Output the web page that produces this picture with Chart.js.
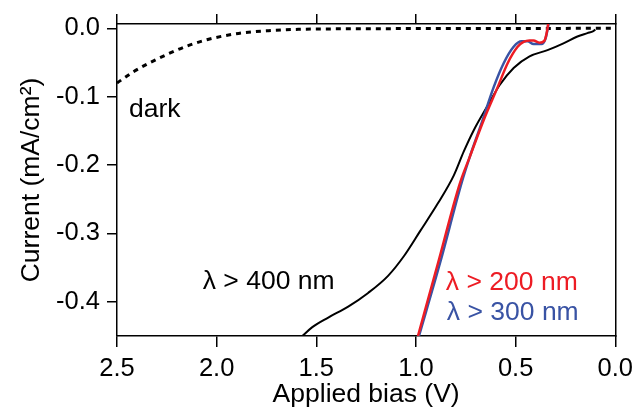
<!DOCTYPE html>
<html>
<head>
<meta charset="utf-8">
<script src="https://cdn.jsdelivr.net/npm/chart.js@4.4.0/dist/chart.umd.min.js"></script>
<style>
  html, body { margin: 0; padding: 0; background: #fff; }
  #wrap { width: 640px; height: 411px; }
</style>
</head>
<body>
<div id="wrap"><canvas id="iv_chart"></canvas></div>
<script>
// values: applied bias (V) -> current (mA/cm2)
const darkBias = [2.5, 2.42, 2.34, 2.24, 2.14, 2.04, 1.89, 1.74, 1.59, 1.4, 1.0, 0.5, 0.0];
const darkCurrent = [-0.080, -0.064, -0.051, -0.037, -0.025, -0.016, -0.0075, -0.0035, -0.0015, -0.0008, -0.0004, -0.0002, 0.0];

const bias400 = [1.57, 1.52, 1.44, 1.34, 1.24, 1.14, 1.06, 0.98, 0.89, 0.81, 0.76, 0.71, 0.64, 0.58, 0.51, 0.43, 0.34, 0.26, 0.19, 0.14, 0.11, 0.10];
const current400 = [-0.45, -0.437, -0.423, -0.407, -0.387, -0.362, -0.333, -0.297, -0.256, -0.215, -0.180, -0.149, -0.113, -0.083, -0.058, -0.041, -0.032, -0.022, -0.012, -0.007, -0.004, -0.002];

const bias200 = [0.99, 0.89, 0.78, 0.73, 0.66, 0.59, 0.54, 0.49, 0.46, 0.43, 0.41, 0.38, 0.355, 0.345, 0.34, 0.335];
const current200 = [-0.45, -0.344, -0.227, -0.188, -0.134, -0.086, -0.051, -0.027, -0.020, -0.018, -0.018, -0.021, -0.018, -0.008, 0.0, 0.01];

const bias300 = [0.985, 0.88, 0.77, 0.73, 0.67, 0.61, 0.56, 0.51, 0.47, 0.44, 0.41, 0.37, 0.35, 0.34, 0.333];
const current300 = [-0.45, -0.344, -0.225, -0.188, -0.138, -0.086, -0.051, -0.027, -0.019, -0.019, -0.023, -0.023, -0.015, -0.002, 0.01];

const xTicks = [2.5, 2.0, 1.5, 1.0, 0.5, 0.0];
const yTicks = [0.0, -0.1, -0.2, -0.3, -0.4];

// text placed in data units
const curveLabels = [
    { text: 'dark', x: 2.44, y: -0.13, color: '#000000' },
    { text: 'λ > 400 nm', x: 2.07, y: -0.381, color: '#000000' },
    { text: 'λ > 200 nm', x: 0.85, y: -0.383, color: '#ed1c24' },
    { text: 'λ > 300 nm', x: 0.845, y: -0.426, color: '#3953a4' }
];

const FONT_FAMILY = '"Liberation Sans", Arial, Helvetica, sans-serif';

function pairs(xs, ys) {
    return xs.map(function (x, i) { return { x: x, y: ys[i] }; });
}

function setTicks(values) {
    return function (scale) {
        scale.ticks = values.map(function (v) { return { value: v }; });
    };
}

const labelPlugin = {
    id: 'curveLabels',
    afterDatasetsDraw: function (chart) {
        var ctx = chart.ctx;
        var xs = chart.scales.x;
        var ys = chart.scales.y;
        ctx.save();
        ctx.font = '26.5px ' + FONT_FAMILY;
        ctx.textAlign = 'left';
        ctx.textBaseline = 'alphabetic';
        curveLabels.forEach(function (l) {
            ctx.fillStyle = l.color;
            ctx.fillText(l.text, xs.getPixelForValue(l.x), ys.getPixelForValue(l.y));
        });
        ctx.restore();
    }
};

const IV_PAGE = {
    render: function () {
        var tickFont = { family: FONT_FAMILY, size: 25.5 };
        var titleFont = { family: FONT_FAMILY, size: 26.5 };
        var axisGrid = { drawOnChartArea: false, color: '#000', lineWidth: 1.5, tickLength: 10 };
        var axisBorder = { color: '#000', width: 1.5 };

        var config = {
            type: 'line',
            data: {
                datasets: [{
                    label: 'λ > 200 nm',
                    data: pairs(bias200, current200),
                    borderColor: '#ed1c24',
                    borderWidth: 2.5,
                    cubicInterpolationMode: 'monotone'
                }, {
                    label: 'λ > 300 nm',
                    data: pairs(bias300, current300),
                    borderColor: '#3953a4',
                    borderWidth: 2.5,
                    cubicInterpolationMode: 'monotone'
                }, {
                    label: 'λ > 400 nm',
                    data: pairs(bias400, current400),
                    borderColor: '#000',
                    borderWidth: 2,
                    cubicInterpolationMode: 'monotone'
                }, {
                    label: 'dark',
                    data: pairs(darkBias, darkCurrent),
                    borderColor: '#000',
                    borderWidth: 3,
                    borderDash: [5, 5],
                    cubicInterpolationMode: 'monotone'
                }]
            },
            options: {
                responsive: true,
                maintainAspectRatio: false,
                animation: false,
                layout: { padding: { top: 14, right: 21, left: 0, bottom: 0 } },
                elements: { point: { radius: 0 } },
                plugins: { legend: { display: false }, tooltip: { enabled: false } },
                scales: {
                    x: {
                        type: 'linear',
                        position: 'bottom',
                        reverse: true,
                        min: 0,
                        max: 2.5,
                        afterBuildTicks: setTicks(xTicks),
                        afterFit: function (s) { s.height = 75; },
                        ticks: {
                            font: tickFont, color: '#000', padding: 7, maxRotation: 0,
                            callback: function (v) { return Number(v).toFixed(1); }
                        },
                        grid: Object.assign({}, axisGrid, { tickLength: 11 }),
                        border: axisBorder,
                        title: {
                            display: true, text: 'Applied bias (V)', font: titleFont, color: '#000',
                            padding: { top: 0, bottom: 0 }
                        }
                    },
                    xTop: {
                        type: 'linear',
                        position: 'top',
                        reverse: true,
                        min: 0,
                        max: 2.5,
                        afterBuildTicks: setTicks(xTicks),
                        afterFit: function (s) { s.height = 10; },
                        ticks: { display: false },
                        grid: axisGrid,
                        border: axisBorder
                    },
                    y: {
                        type: 'linear',
                        position: 'left',
                        min: -0.45,
                        max: 0.0063,
                        afterBuildTicks: setTicks(yTicks),
                        afterFit: function (s) { s.width = 117; },
                        ticks: {
                            font: tickFont, color: '#000', padding: 7,
                            callback: function (v) { return Number(v).toFixed(1); }
                        },
                        grid: axisGrid,
                        border: axisBorder,
                        title: {
                            display: true, text: 'Current (mA/cm²)', font: titleFont, color: '#000',
                            padding: { top: 16, bottom: 0 }
                        }
                    },
                    yRight: {
                        type: 'linear',
                        position: 'right',
                        afterFit: function (s) { s.width = 0; },
                        ticks: { display: false },
                        grid: { display: true, drawOnChartArea: false, drawTicks: false },
                        border: axisBorder
                    }
                }
            },
            plugins: [labelPlugin]
        };

        var ctx = document.getElementById('iv_chart').getContext('2d');
        window.ivChart = new Chart(ctx, config);
    }
};

IV_PAGE.render();
</script>
</body>
</html>
